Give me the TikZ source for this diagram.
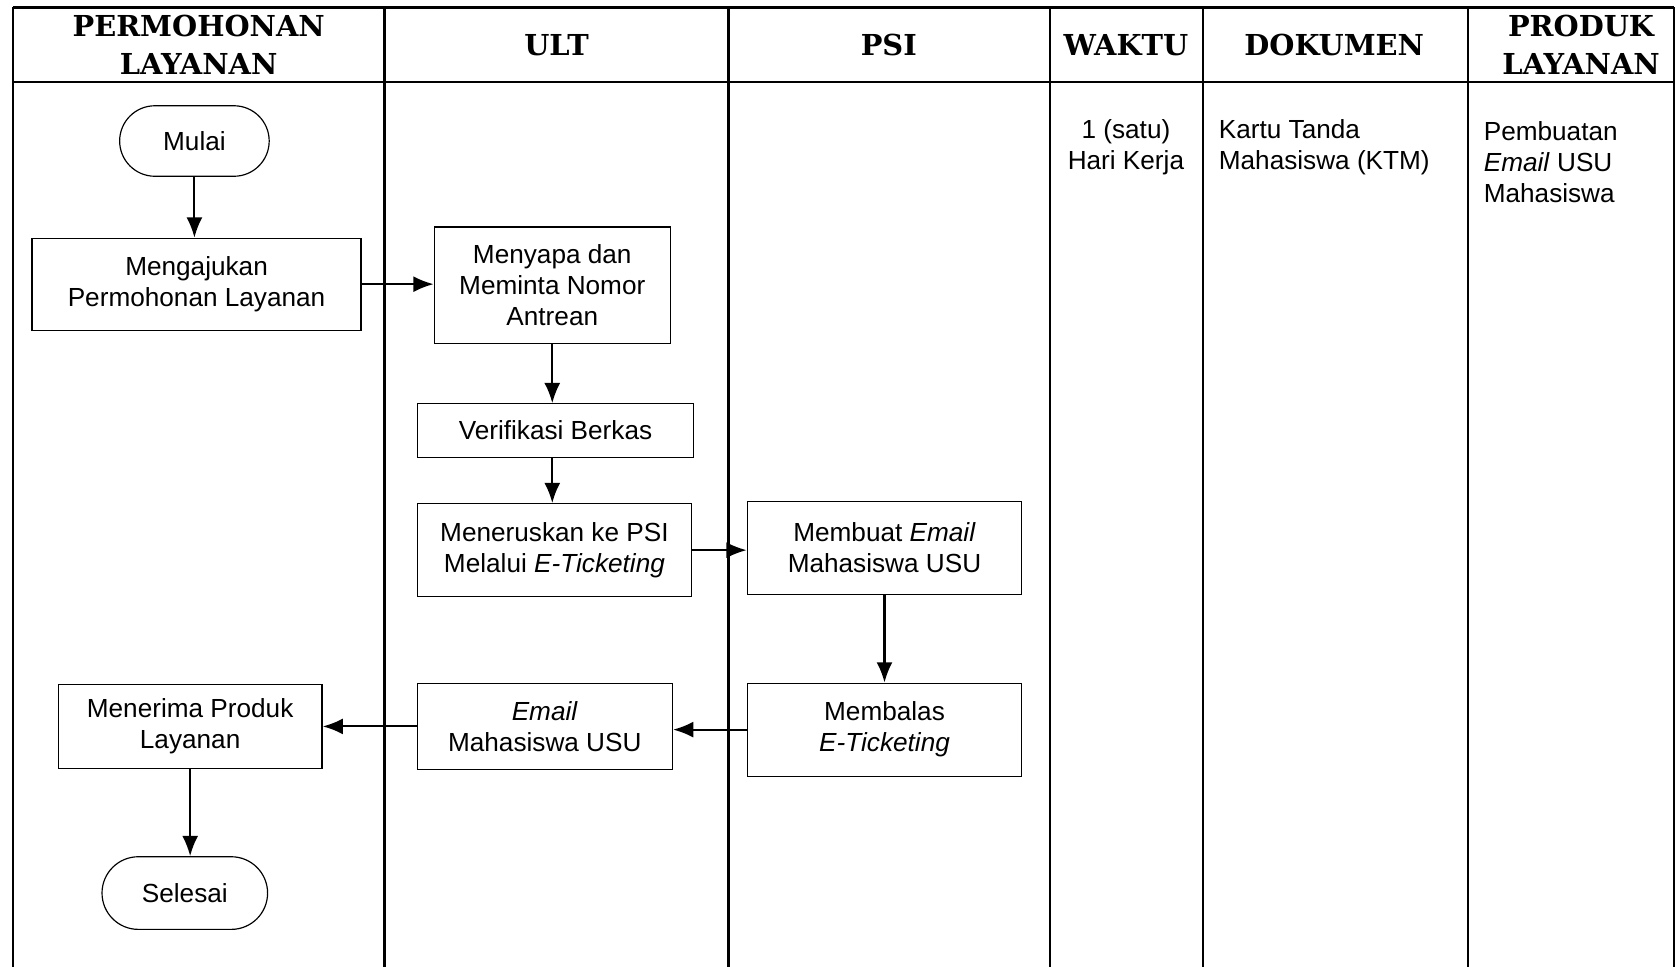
\documentclass[tikz,border=0pt]{standalone}
\usepackage{fontspec}
\setmainfont{Liberation Sans}
\newfontfamily\headfont{DejaVu Serif}
\usetikzlibrary{arrows.meta,positioning}

\newcommand{\bodytext}{\fontsize{24.5}{29}\selectfont}
\newcommand{\headtext}{\headfont\bfseries\fontsize{27}{36}\selectfont}

\begin{document}
\begin{tikzpicture}[->,
            >={Latex[length=19pt,width=15pt]},
            x=1pt, y=-1pt,
            line width=2pt,
            proc/.style={draw, -, line width=1.1pt, inner sep=0pt,
                         align=center, font=\bodytext},
            term/.style={proc, rounded corners=33pt},
            head/.style={align=center, font=\headtext},
            info/.style={align=left, font=\bodytext, inner sep=0pt}]

        \useasboundingbox (0,0) rectangle (1568,905);

        % swimlane table
        \draw[-, line width=2.2pt] (12,7) -- (1567,7);
        \draw[-, line width=2.2pt] (12,77) -- (1567,77);
        \foreach \x in {12,360,682,983,1126,1374,1567}
            \draw[-, line width=2.2pt] (\x,7) -- (\x,905);

        \node[head] (h1) at (186,42)  {PERMOHONAN\\LAYANAN};
        \node[head] (h2) at (521,42)  {ULT};
        \node[head] (h3) at (832,42)  {PSI};
        \node[head] (h4) at (1054,42) {WAKTU};
        \node[head] (h5) at (1249,42) {DOKUMEN};
        \node[head] (h6) at (1480,42) {PRODUK\\LAYANAN};

        \node[info, align=center] (waktu)  at (1054,138) {1 (satu)\\Hari Kerja};
        \node[info, anchor=west]  (dok)    at (1140,138) {Kartu Tanda\\Mahasiswa (KTM)};
        \node[info, anchor=west]  (produk) at (1388,152) {Pembuatan\\\emph{Email} USU\\Mahasiswa};

        % flow
        \node[term, minimum width=140pt, minimum height=66pt] (mulai)    at (182,132) {Mulai};
        \node[proc, minimum width=308pt, minimum height=86pt] (ajukan)   at (184,266) {Mengajukan\\Permohonan Layanan};
        \node[proc, minimum width=221pt, minimum height=109pt] (sapa)    at (517,267) {Menyapa dan\\Meminta Nomor\\Antrean};
        \node[proc, minimum width=259pt, minimum height=50pt] (verif)    at (520,403) {Verifikasi Berkas};
        \node[proc, minimum width=256pt, minimum height=87pt] (teruskan) at (519,515) {Meneruskan ke PSI\\Melalui \emph{E-Ticketing}};
        \node[proc, minimum width=257pt, minimum height=87pt] (buat)     at (828,513) {Membuat \emph{Email}\\Mahasiswa USU};
        \node[proc, minimum width=257pt, minimum height=87pt] (balas)    at (828,683) {Membalas\\\emph{E-Ticketing}};
        \node[proc, minimum width=239pt, minimum height=81pt] (email)    at (510,680) {\emph{Email}\\Mahasiswa USU};
        \node[proc, minimum width=247pt, minimum height=79pt] (terima)   at (178,680) {Menerima Produk\\Layanan};
        \node[term, minimum width=155pt, minimum height=68pt, rounded corners=34pt] (selesai) at (173,836) {Selesai};

        \path (mulai)              edge (mulai |- ajukan.north)
              (ajukan)             edge (ajukan -| sapa.west)
              (sapa)               edge (sapa |- verif.north)
              (sapa |- verif.south) edge (sapa |- teruskan.north)
              (teruskan)           edge (teruskan -| buat.west)
              (buat)               edge (buat |- balas.north)
              (balas)              edge (balas -| email.east)
              (email)              edge (email -| terima.east)
              (terima)             edge (terima |- selesai.north);

    \end{tikzpicture}
\end{document}
